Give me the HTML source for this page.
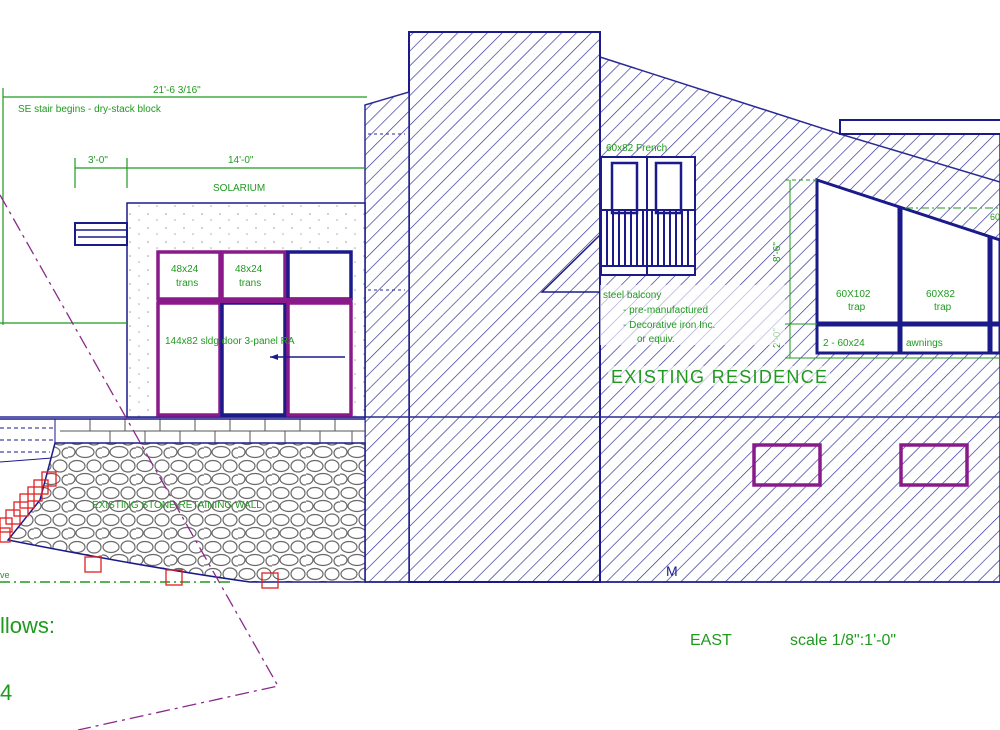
<!DOCTYPE html>
<html><head><meta charset="utf-8"><style>
html,body{margin:0;padding:0;background:#fff;width:1000px;height:730px;overflow:hidden}
svg{display:block}
text{font-family:"Liberation Sans",sans-serif;fill:#1f9a1f}
</style></head><body>
<svg width="1000" height="730" viewBox="0 0 1000 730" xmlns="http://www.w3.org/2000/svg">
<defs>
<pattern id="h" patternUnits="userSpaceOnUse" width="10.5" height="10.5" patternTransform="rotate(45)">
<rect width="10.5" height="10.5" fill="#fff"/><line x1="0" y1="0" x2="0" y2="10.5" stroke="#2a2a95" stroke-width="1.3"/>
</pattern>
<pattern id="dots" patternUnits="userSpaceOnUse" width="18" height="14">
<rect width="18" height="14" fill="#fff"/><circle cx="4" cy="4" r="0.8" fill="#999"/><circle cx="13" cy="10" r="0.8" fill="#aaa"/>
</pattern>
<pattern id="stone" patternUnits="userSpaceOnUse" width="34" height="27">
<rect width="34" height="27" fill="#fff"/>
<g fill="none" stroke="#6a6a6a" stroke-width="1.2">
<ellipse cx="9" cy="7" rx="8" ry="5.5"/>
<ellipse cx="26" cy="7" rx="7" ry="6"/>
<ellipse cx="17" cy="20" rx="9" ry="5.5"/>
<ellipse cx="1" cy="20" rx="6" ry="5"/>
<ellipse cx="33" cy="21" rx="5" ry="5"/>
</g>
</pattern>
</defs>

<!-- hatched residence -->
<polygon points="600,57 840,134 1000,134 1000,582 600,582" fill="url(#h)" stroke="#2a2a95" stroke-width="1.5"/>
<line x1="840" y1="134" x2="1000" y2="182" stroke="#2a2a95" stroke-width="1.5"/>
<rect x="840" y="120" width="165" height="14" fill="#fff" stroke="#1a1a8a" stroke-width="2"/>
<rect x="409" y="32" width="191" height="550" fill="url(#h)" stroke="#1a1a8a" stroke-width="2"/>
<polygon points="365,105 409,92 409,582 365,582" fill="url(#h)" stroke="#2a2a95" stroke-width="1.5"/>
<line x1="368" y1="134" x2="405" y2="134" stroke="#2a2a95" stroke-dasharray="3,3"/>
<line x1="368" y1="290" x2="405" y2="290" stroke="#2a2a95" stroke-dasharray="3,3"/>
<line x1="0" y1="417" x2="1000" y2="417" stroke="#2a2a95" stroke-width="1.5"/>

<!-- right windows -->
<polygon points="817,180 1000,240 1000,353 817,353" fill="#fff" stroke="#1a1a8a" stroke-width="3"/>
<line x1="900" y1="208" x2="900" y2="353" stroke="#1a1a8a" stroke-width="5"/>
<line x1="990" y1="237" x2="990" y2="353" stroke="#1a1a8a" stroke-width="5"/>
<line x1="817" y1="324" x2="1000" y2="324" stroke="#1a1a8a" stroke-width="5"/>
<line x1="790" y1="180" x2="790" y2="358" stroke="#1f9a1f" stroke-width="1"/>
<line x1="785" y1="180" x2="817" y2="180" stroke="#1f9a1f" stroke-dasharray="4,3"/>
<line x1="785" y1="324" x2="817" y2="324" stroke="#1f9a1f"/>
<line x1="785" y1="358" x2="1000" y2="358" stroke="#1f9a1f"/>
<line x1="905" y1="208" x2="1000" y2="208" stroke="#1f9a1f" stroke-dasharray="8,3,2,3"/>
<text x="780" y="262" font-size="10" transform="rotate(-90 780 262)">8'-6"</text>
<text x="780" y="348" font-size="10" transform="rotate(-90 780 348)">2'-0"</text>
<text x="836" y="297" font-size="10">60X102</text><text x="848" y="310" font-size="10">trap</text>
<text x="926" y="297" font-size="10">60X82</text><text x="934" y="310" font-size="10">trap</text>
<text x="823" y="346" font-size="10">2 - 60x24</text><text x="906" y="346" font-size="10">awnings</text>
<text x="990" y="220" font-size="9">60</text>

<!-- French door + balcony -->
<rect x="601" y="157" width="94" height="118" fill="#fff" stroke="#1a1a8a" stroke-width="2"/>
<rect x="612" y="163" width="25" height="50" fill="none" stroke="#1a1a8a" stroke-width="2.5"/>
<rect x="656" y="163" width="25" height="50" fill="none" stroke="#1a1a8a" stroke-width="2.5"/>
<line x1="647" y1="157" x2="647" y2="275" stroke="#1a1a8a" stroke-width="2"/>
<rect x="601" y="210" width="94" height="56" fill="none" stroke="#1a1a8a" stroke-width="2"/>
<g stroke="#1a1a8a" stroke-width="2">
<line x1="607" y1="210" x2="607" y2="266"/><line x1="613" y1="210" x2="613" y2="266"/><line x1="619" y1="210" x2="619" y2="266"/><line x1="625" y1="210" x2="625" y2="266"/><line x1="631" y1="210" x2="631" y2="266"/><line x1="637" y1="210" x2="637" y2="266"/><line x1="643" y1="210" x2="643" y2="266"/>
<line x1="652" y1="210" x2="652" y2="266"/><line x1="658" y1="210" x2="658" y2="266"/><line x1="664" y1="210" x2="664" y2="266"/><line x1="670" y1="210" x2="670" y2="266"/><line x1="676" y1="210" x2="676" y2="266"/><line x1="682" y1="210" x2="682" y2="266"/><line x1="688" y1="210" x2="688" y2="266"/>
</g>
<polyline points="600,235 542,292 600,292" fill="none" stroke="#1a1a8a" stroke-width="1.5"/>
<text x="606" y="151" font-size="10">60x82 French</text>
<rect x="600" y="285" width="185" height="60" fill="#fff" opacity="0.6"/>
<text x="603" y="298" font-size="10">steel balcony</text>
<text x="623" y="313" font-size="10">- pre-manufactured</text>
<text x="623" y="328" font-size="10">- Decorative iron Inc.</text>
<text x="637" y="342" font-size="10">or equiv.</text>
<rect x="608" y="366" width="222" height="20" fill="#fff" opacity="0.6"/>
<text x="611" y="383" font-size="18" textLength="216">EXISTING RESIDENCE</text>

<rect x="754" y="445" width="66" height="40" fill="none" stroke="#8a1a8a" stroke-width="3.5"/>
<rect x="901" y="445" width="66" height="40" fill="none" stroke="#8a1a8a" stroke-width="3.5"/>

<!-- solarium -->
<rect x="127" y="203" width="238" height="214" fill="url(#dots)" stroke="#1a1a8a" stroke-width="1.5"/>
<rect x="75" y="223" width="52" height="22" fill="#fff" stroke="#1a1a8a" stroke-width="2"/>
<line x1="75" y1="230" x2="127" y2="230" stroke="#1a1a8a" stroke-width="1.5"/>
<line x1="78" y1="237" x2="127" y2="237" stroke="#1a1a8a" stroke-width="1.5"/>
<rect x="157" y="251" width="195" height="165" fill="#fff"/>
<g fill="none" stroke-width="3.5">
<rect x="158" y="252" width="62" height="47" stroke="#8a1a8a"/>
<rect x="222" y="252" width="63" height="47" stroke="#8a1a8a"/>
<rect x="288" y="252" width="63" height="47" stroke="#1a1a8a"/>
<rect x="158" y="303" width="62" height="112" stroke="#8a1a8a"/>
<rect x="222" y="303" width="63" height="112" stroke="#1a1a8a"/>
<rect x="288" y="303" width="63" height="112" stroke="#8a1a8a"/>
</g>
<rect x="157" y="298" width="195" height="5" fill="#8a1a8a"/>
<text x="171" y="272" font-size="10">48x24</text><text x="176" y="286" font-size="10">trans</text>
<text x="235" y="272" font-size="10">48x24</text><text x="239" y="286" font-size="10">trans</text>
<text x="165" y="344" font-size="10">144x82 sldg door 3-panel RA</text>
<line x1="270" y1="357" x2="345" y2="357" stroke="#1a1a8a" stroke-width="1.5"/>
<polygon points="270,357 278,354 278,360" fill="#1a1a8a"/>

<!-- dimensions -->
<g stroke="#1f9a1f" stroke-width="1.2">
<line x1="3" y1="97" x2="367" y2="97"/><line x1="3" y1="88" x2="3" y2="325"/>
<line x1="75" y1="168" x2="365" y2="168"/><line x1="75" y1="158" x2="75" y2="188"/><line x1="127" y1="158" x2="127" y2="188"/>
<line x1="0" y1="323" x2="127" y2="323"/>
</g>
<text x="153" y="93" font-size="10">21'-6 3/16"</text>
<text x="18" y="112" font-size="10">SE stair begins - dry-stack block</text>
<text x="88" y="163" font-size="10">3'-0"</text>
<text x="228" y="163" font-size="10">14'-0"</text>
<text x="213" y="191" font-size="10">SOLARIUM</text>

<!-- block course -->
<rect x="55" y="419" width="310" height="24" fill="#fff" stroke="#1a1a8a" stroke-width="1"/>
<g stroke="#555" stroke-width="1">
<line x1="60" y1="431" x2="365" y2="431"/>
<line x1="90" y1="419" x2="90" y2="431"/><line x1="125" y1="419" x2="125" y2="431"/><line x1="160" y1="419" x2="160" y2="431"/><line x1="195" y1="419" x2="195" y2="431"/><line x1="230" y1="419" x2="230" y2="431"/><line x1="265" y1="419" x2="265" y2="431"/><line x1="300" y1="419" x2="300" y2="431"/><line x1="335" y1="419" x2="335" y2="431"/>
<line x1="110" y1="431" x2="110" y2="443"/><line x1="145" y1="431" x2="145" y2="443"/><line x1="180" y1="431" x2="180" y2="443"/><line x1="215" y1="431" x2="215" y2="443"/><line x1="250" y1="431" x2="250" y2="443"/><line x1="285" y1="431" x2="285" y2="443"/><line x1="320" y1="431" x2="320" y2="443"/><line x1="352" y1="431" x2="352" y2="443"/>
</g>
<line x1="0" y1="419" x2="365" y2="419" stroke="#1a1a8a" stroke-width="1.5"/>
<line x1="0" y1="428" x2="55" y2="428" stroke="#1a1a8a" stroke-dasharray="4,3"/>
<line x1="0" y1="440" x2="55" y2="440" stroke="#1a1a8a" stroke-dasharray="4,3"/>
<line x1="0" y1="452" x2="50" y2="452" stroke="#1a1a8a" stroke-dasharray="4,3"/>
<line x1="0" y1="462" x2="52" y2="458" stroke="#1a1a8a"/>

<!-- stone wall -->
<path d="M55,443 L365,443 L365,582 L250,582 Q150,568 8,540 L40,500 Z" fill="url(#stone)" stroke="#1a1a8a" stroke-width="1.5"/>
<text x="92" y="508" font-size="10">EXISTING STONE RETAINING WALL</text>
<line x1="0" y1="582" x2="230" y2="582" stroke="#1f9a1f" stroke-width="1.5" stroke-dasharray="10,4,2,4"/>
<text x="0" y="578" font-size="9">ve</text>
<line x1="365" y1="582" x2="1000" y2="582" stroke="#1a1a8a" stroke-width="1.5"/>

<!-- red squares -->
<g fill="none" stroke="#e02020" stroke-width="1.3">
<rect x="42" y="472" width="14" height="14"/><rect x="34" y="480" width="14" height="14"/><rect x="28" y="487" width="14" height="14"/><rect x="20" y="494" width="14" height="14"/><rect x="14" y="502" width="14" height="14"/><rect x="6" y="510" width="14" height="14"/><rect x="0" y="518" width="12" height="14"/><rect x="0" y="528" width="10" height="14"/>
<rect x="85" y="557" width="16" height="15"/><rect x="166" y="570" width="16" height="15"/><rect x="262" y="573" width="16" height="15"/>
</g>

<!-- purple dash-dot property line -->
<polyline points="0,195 278,686 78,730" fill="none" stroke="#8a2a8a" stroke-width="1.3" stroke-dasharray="14,5,3,5"/>

<text x="0" y="633" font-size="22">llows:</text>
<text x="0" y="700" font-size="22">4</text>
<text x="690" y="645" font-size="16">EAST</text>
<text x="790" y="645" font-size="16">scale 1/8":1'-0"</text>
<text x="666" y="576" font-size="14" style="fill:#1a1a8a">M</text>
</svg>
</body></html>
